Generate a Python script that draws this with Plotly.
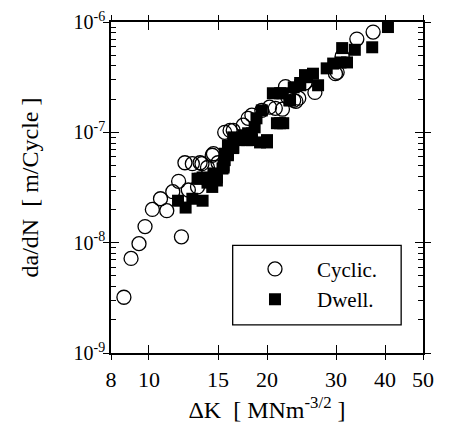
import plotly.graph_objects as go

# Cyclic (open circles)
cyc_dk = [8.63, 9.0, 9.43, 9.77, 10.2, 10.7, 11.1, 11.5, 11.9, 12.1, 12.35, 12.6, 12.9,
          13.3, 13.5, 13.65, 14.1, 14.5, 14.6, 15.0, 15.6, 16.1, 16.4, 17.4, 17.9, 18.3,
          19.4, 20.3, 21.0, 21.9, 22.3, 22.6, 23.4, 23.7, 24.1, 25.0, 26.5, 29.9, 30.2,
          31.1, 33.9, 37.3]
cyc_rate = [3.2e-9, 7.2e-9, 9.8e-9, 1.4e-8, 2.0e-8, 2.5e-8, 1.95e-8, 2.9e-8, 3.6e-8, 1.13e-8,
            5.3e-8, 3.0e-8, 5.2e-8, 3.2e-8, 5.3e-8, 5.2e-8, 4.8e-8, 6.2e-8, 6.4e-8, 5.3e-8,
            1.0e-7, 1.04e-7, 1.04e-7, 1.16e-7, 1.34e-7, 1.43e-7, 1.58e-7, 1.69e-7, 1.65e-7,
            1.62e-7, 2.6e-7, 2.08e-7, 1.95e-7, 1.91e-7, 2.04e-7, 2.8e-7, 2.3e-7, 3.4e-7,
            3.5e-7, 4.9e-7, 7.0e-7, 8.1e-7]

# Dwell (filled squares)
dwl_dk = [11.86, 12.4, 12.9, 13.7, 13.3, 14.1, 14.5, 14.9, 15.5, 15.6, 15.9, 16.4, 13.5,
          14.5, 15.5, 15.9, 16.4, 16.9, 17.8, 18.6, 18.3, 20.0, 18.8, 19.4, 21.2, 22.0,
          20.7, 21.6, 22.8, 23.4, 24.3, 25.0, 21.9, 22.9, 24.3, 25.3, 26.2, 27.0, 28.4,
          29.5, 30.8, 32.0, 31.1, 33.5, 37.1, 40.7, 21.6, 20.0, 19.2, 18.3, 17.9, 17.4,
          17.0, 16.4, 15.9, 15.6, 15.4, 14.6, 13.7, 14.9, 14.1]
dwl_rate = [2.4e-8, 2.08e-8, 2.5e-8, 2.4e-8, 3.8e-8, 3.8e-8, 3.2e-8, 3.9e-8, 5.0e-8, 6.4e-8,
            7.6e-8, 9.0e-8, 3.8e-8, 3.8e-8, 4.8e-8, 6.2e-8, 7.2e-8, 8.8e-8, 8.5e-8, 1.11e-7,
            9.8e-8, 8.5e-8, 1.34e-7, 1.58e-7, 1.21e-7, 1.21e-7, 2.26e-7, 2.26e-7, 1.95e-7,
            2.56e-7, 2.8e-7, 3.3e-7, 2.26e-7, 1.95e-7, 2.67e-7, 3.16e-7, 3.4e-7, 2.67e-7,
            3.8e-7, 4.2e-7, 4.3e-7, 4.3e-7, 5.8e-7, 5.6e-7, 5.9e-7, 9.0e-7, 1.21e-7, 8.1e-8,
            8.1e-8, 8.5e-8, 9.8e-8, 9.4e-8, 8.5e-8, 7.3e-8, 6.4e-8, 5.6e-8, 4.7e-8, 4.24e-8,
            3.9e-8, 3.66e-8, 3.5e-8]

x_ticks = [8, 10, 15, 20, 30, 40, 50]
x_ticktext = ["8", "10", "15", "20", "30", "40", "50"]
y_ticks = [1e-9, 1e-8, 1e-7, 1e-6]
y_ticktext = ["10<sup>-9</sup>", "10<sup>-8</sup>", "10<sup>-7</sup>", "10<sup>-6</sup>"]
y_minor = [m * d for d in (1e-9, 1e-8, 1e-7) for m in range(2, 10)]

FONT = "Times New Roman, Liberation Serif, serif"

fig = go.Figure()
fig.add_trace(go.Scatter(
    x=cyc_dk, y=cyc_rate, mode="markers", name="Cyclic.",
    marker=dict(symbol="circle-open", size=14, color="black", line=dict(width=1.3))))
fig.add_trace(go.Scatter(
    x=dwl_dk, y=dwl_rate, mode="markers", name="Dwell.",
    marker=dict(symbol="square", size=12, color="black")))

xr = [0.90309, 1.69897]
yr = [-9, -6]

# page body has an 8px margin, so the figure is drawn 8px in from the corner
fig.update_layout(
    width=451, height=427,
    margin=dict(l=103, r=36, t=14, b=82),
    paper_bgcolor="white", plot_bgcolor="white",
    font=dict(family=FONT, size=20, color="black"),
    showlegend=True,
    legend=dict(x=0.391, y=0.315, xanchor="left", yanchor="top",
                bgcolor="rgba(0,0,0,0)", borderwidth=0,
                font=dict(family=FONT, size=21), itemwidth=74),
    xaxis=dict(type="log", range=xr, tickvals=x_ticks, ticktext=x_ticktext,
               ticks="inside", ticklen=8, tickwidth=1.2, tickcolor="black",
               showline=True, linecolor="black", linewidth=1.5, mirror="allticks",
               showgrid=False, zeroline=False, automargin=False,
               ticklabelstandoff=6,
               tickfont=dict(family=FONT, size=22),
               title=dict(text="\u0394K  [ MNm<sup>-3/2</sup> ]", standoff=10,
                          font=dict(family=FONT, size=24))),
    yaxis=dict(type="log", range=yr, tickvals=y_ticks, ticktext=y_ticktext,
               ticks="inside", ticklen=8, tickwidth=1.2, tickcolor="black",
               showline=True, linecolor="black", linewidth=1.5, mirror="allticks",
               showgrid=False, zeroline=False, automargin=False,
               minor=dict(ticks="inside", ticklen=5, tickcolor="black",
                          tickvals=y_minor, showgrid=False),
               tickfont=dict(family=FONT, size=20),
               title=dict(text="da/dN  [ m/Cycle ]", standoff=28,
                          font=dict(family=FONT, size=24))),
    xaxis2=dict(type="log", range=xr, tickvals=x_ticks, overlaying="x",
                ticks="outside", ticklen=6, tickwidth=1.2, tickcolor="black",
                showticklabels=False, showline=False, showgrid=False,
                zeroline=False, mirror="ticks", automargin=False),
    yaxis2=dict(type="log", range=yr, tickvals=y_ticks, overlaying="y",
                ticks="outside", ticklen=7, tickwidth=1.2, tickcolor="black",
                showticklabels=False, showline=False, showgrid=False,
                zeroline=False, mirror="ticks", automargin=False),
    shapes=[dict(type="rect", xref="paper", yref="paper",
                 x0=0.39, x1=0.93, y0=0.085, y1=0.325,
                 line=dict(color="black", width=1.3), fillcolor="rgba(0,0,0,0)")],
)
# invisible trace to activate the secondary axes
fig.add_trace(go.Scatter(x=[10], y=[1e-8], xaxis="x2", yaxis="y2", mode="markers",
                         marker=dict(opacity=0), showlegend=False, hoverinfo="skip"))

fig.write_html("out.html")
